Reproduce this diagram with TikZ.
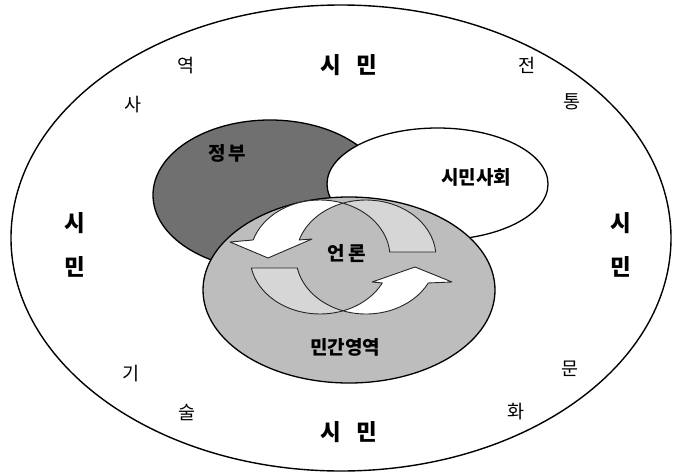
\documentclass[tikz,border=0pt]{standalone}
\usepackage{fontspec}
\newfontfamily\kr{Noto Sans CJK KR}
\usetikzlibrary{calc}
\definecolor{govgray}{HTML}{707070}
\definecolor{privgray}{HTML}{BDBDBD}
\definecolor{tailgray}{HTML}{D6D6D6}
\tikzset{
  bigtxt/.style={inner sep=0pt, font=\kr\bfseries\fontsize{22.5pt}{22.5pt}\selectfont},
  midtxt/.style={inner sep=0pt, font=\kr\bfseries\fontsize{19pt}{19pt}\selectfont},
  smalltxt/.style={inner sep=0pt, font=\kr\fontsize{18.5pt}{18.5pt}\selectfont},
  blob/.style={draw=black, line width=1.3pt},
  headpiece/.style={draw=black!85, line width=0.9pt, fill=white, line join=round},
  tailpiece/.style={draw=black!85, line width=0.9pt, fill=tailgray, line join=round}
}
\begin{document}
\begin{tikzpicture}[x=1pt,y=1pt]
\useasboundingbox (0,0) rectangle (676,475);
% outer ellipse
\draw[line width=1.4pt] (341,237) ellipse [x radius=330, y radius=233];
% inner ellipses
\draw[blob, fill=govgray] (270,280) ellipse [x radius=117, y radius=75];
\draw[blob, fill=white] (437.5,291) ellipse [x radius=110.5, y radius=56];
\draw[blob, fill=privgray] (349,185) ellipse [x radius=146, y radius=93];
% circular arrows
\coordinate (Lc) at (320,218);
\coordinate (Rc) at (366,218);
\draw[headpiece] ([shift={(70.8:70 and 57)}]Lc) arc[start angle=70.8, end angle=162.6, x radius=70, y radius=57]
  -- (230,233) -- (268,217) -- (312,236)
  -- ([shift={(162.6:70 and 57)}]Rc) arc[start angle=162.6, end angle=109.2, x radius=70, y radius=57] -- cycle;
\draw[tailpiece] ([shift={(109.2:70 and 57)}]Rc) arc[start angle=109.2, end angle=5, x radius=70, y radius=57]
  -- ([shift={(5:70 and 57)}]Lc) arc[start angle=5, end angle=70.8, x radius=70, y radius=57] -- cycle;
\draw[tailpiece] ([shift={(-70.8:70 and 57)}]Lc) arc[start angle=-70.8, end angle=-168.9, x radius=70, y radius=57]
  -- ([shift={(191.1:70 and 57)}]Rc) arc[start angle=191.1, end angle=250.8, x radius=70, y radius=57] -- cycle;
\draw[headpiece] ([shift={(250.8:70 and 57)}]Rc) arc[start angle=250.8, end angle=332.9, x radius=70, y radius=57]
  -- (452,193) -- (415,208) -- (372,193)
  -- ([shift={(332.9:70 and 57)}]Lc) arc[start angle=332.9, end angle=289.2, x radius=70, y radius=57] -- cycle;
% labels
\node[midtxt] (gov) at (227,322) {정\hspace{3pt}부};
\node[midtxt] (civ) at (476,298) {시민사회};
\node[midtxt] (media) at (347,221) {언\hspace{4pt}론};
\node[midtxt] (priv) at (345,128) {민간영역};
% outer ring texts
\node[bigtxt] (ctop) at (349,410) {시\hspace{15pt}민};
\node[bigtxt] (cbot) at (349,43) {시\hspace{15pt}민};
\node[bigtxt] (cl1) at (75,252) {시};
\node[bigtxt] (cl2) at (75,208) {민};
\node[bigtxt] (cr1) at (621,252) {시};
\node[bigtxt] (cr2) at (621,208) {민};
\node[smalltxt] (s1) at (133,370) {사};
\node[smalltxt] (s2) at (186,409) {역};
\node[smalltxt] (s3) at (527,410) {전};
\node[smalltxt] (s4) at (572,373) {통};
\node[smalltxt] (s5) at (131,101) {기};
\node[smalltxt] (s6) at (187,62) {술};
\node[smalltxt] (s7) at (570,106) {문};
\node[smalltxt] (s8) at (516,63) {화};
\end{tikzpicture}
\end{document}
